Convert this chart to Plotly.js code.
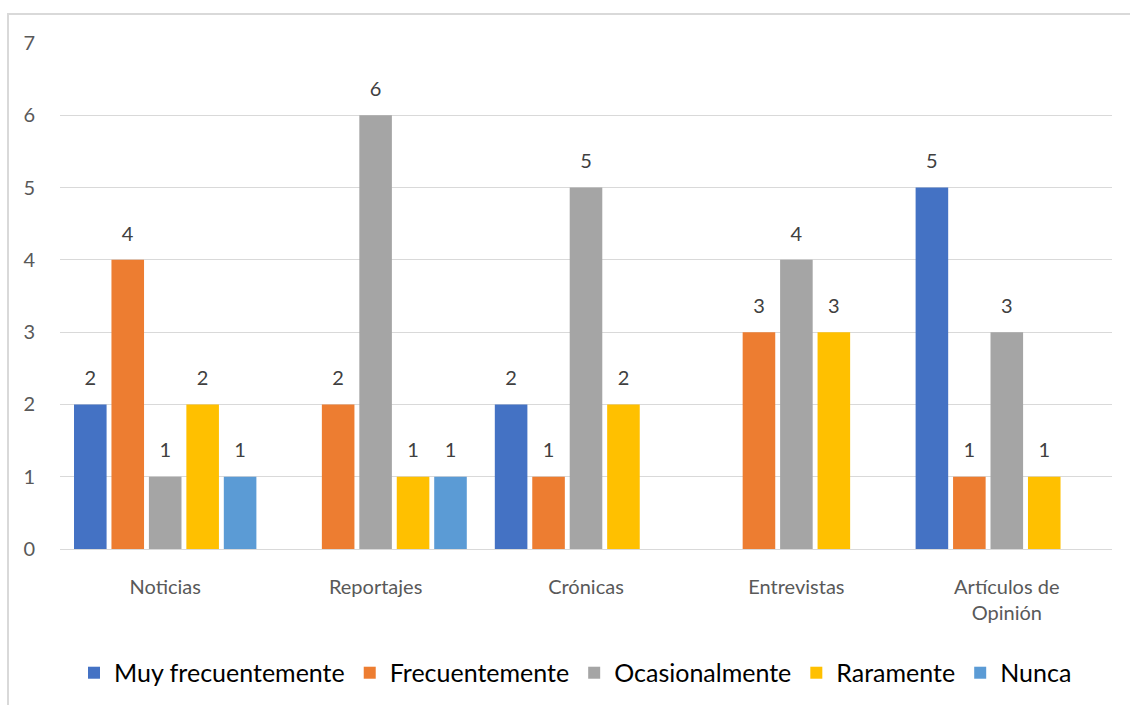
<!DOCTYPE html>
<html>
<head>
<meta charset="utf-8">
<script src="https://cdn.plot.ly/plotly-3.0.1.min.js"></script>
<style>
  html, body { margin: 0; padding: 0; background: #ffffff; }
  #frame { position: absolute; left: 7px; top: 13px; width: 1200px; height: 800px;
           border-left: 2px solid #d9d9d9; border-top: 2px solid #d9d9d9; pointer-events: none; z-index: 2; }
  #chart { position: absolute; left: 0; top: 0; width: 1130px; height: 705px; }
</style>
</head>
<body>
<div id="chart"></div>
<div id="frame"></div>
<script>
const categories = ["Noticias", "Reportajes", "Crónicas", "Entrevistas", "Artículos de<br>Opinión"];
const seriesNames = ["Muy frecuentemente", "Frecuentemente", "Ocasionalmente", "Raramente", "Nunca"];
const muyFrecuentemente = [2, null, 2, null, 5];
const frecuentemente    = [4, 2, 1, 3, 1];
const ocasionalmente    = [1, 6, 5, 4, 3];
const raramente         = [2, 1, 2, 3, 1];
const nunca             = [1, 1, null, null, null];
const seriesValues = [muyFrecuentemente, frecuentemente, ocasionalmente, raramente, nunca];
const seriesColors = ["#4472c4", "#ed7d31", "#a5a5a5", "#ffc000", "#5b9bd5"];
const yTicks = [0, 1, 2, 3, 4, 5, 6, 7];

const FONT = "Lato, 'Open Sans', 'Liberation Sans', sans-serif";

const traces = seriesNames.map((name, i) => ({
  type: "bar",
  name: name,
  x: categories,
  y: seriesValues[i],
  marker: { color: seriesColors[i], line: { width: 0 } },
  text: seriesValues[i].map(v => v === null ? "" : "<span style=\"font-size:20px\">" + String(v) + "</span><br> "),
  textposition: "outside",
  textfont: { family: FONT, size: 11, color: "#404040" },
  cliponaxis: false,
  hoverinfo: "skip"
}));

const layout = {
  width: 1130,
  height: 705,
  margin: { l: 60, r: 18, t: 43, b: 156, autoexpand: false },
  paper_bgcolor: "#ffffff",
  plot_bgcolor: "#ffffff",
  barmode: "group",
  bargap: 0.11,
  bargroupgap: 0.13,
  font: { family: FONT, size: 20, color: "#595959" },
  xaxis: {
    type: "category",
    showgrid: false,
    showline: true,
    linecolor: "#d9d9d9",
    linewidth: 1,
    ticks: "",
    ticklabelstandoff: 20,
    tickfont: { family: FONT, size: 20, color: "#595959" }
  },
  yaxis: {
    range: [0, 7],
    tickvals: yTicks,
    showgrid: true,
    gridcolor: "#d9d9d9",
    gridwidth: 1,
    zeroline: false,
    showline: false,
    ticks: "",
    ticklabelstandoff: 24,
    tickfont: { family: FONT, size: 20, color: "#595959" }
  },
  showlegend: true,
  legend: {
    orientation: "h",
    x: 0.49,
    xanchor: "center",
    y: -0.245,
    yanchor: "middle",
    font: { family: FONT, size: 25, color: "#000000" },
    itemwidth: 30,
    traceorder: "normal"
  }
};

Plotly.newPlot("chart", traces, layout, { staticPlot: true, displayModeBar: false });
</script>
</body>
</html>
